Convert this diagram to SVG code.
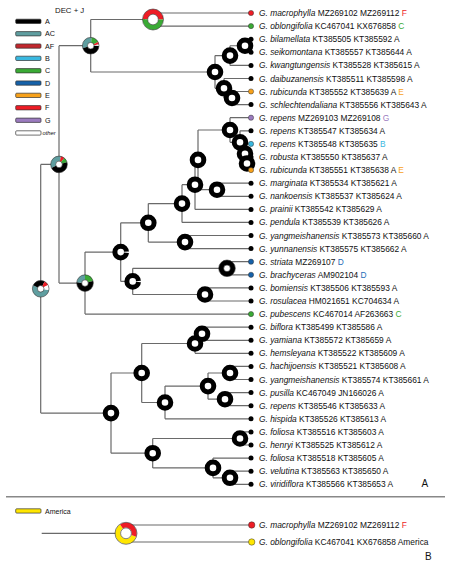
<svg xmlns="http://www.w3.org/2000/svg" width="450" height="568" viewBox="0 0 450 568">
<style>
.l{fill:none;stroke:#6a6a6a;stroke-width:1.2}
.r{fill:#fff;stroke:#000;stroke-width:5}
.s{fill:none;stroke-width:5}
.o{fill:none;stroke:#333;stroke-width:0.6}
.t{font-family:"Liberation Sans",Arial,sans-serif;font-size:8.4px;fill:#111}
.i{font-style:italic}
.lg{font-family:"Liberation Sans",Arial,sans-serif;font-size:7.2px;fill:#111}
.bar{stroke:#333;stroke-width:0.7}
.dk{fill:#000}
.dc{stroke:#333;stroke-width:0.5}
</style>
<rect width="450" height="568" fill="#fff"/>
<g id="legend">
<text class="lg" x="55" y="13" style="font-size:7.8px">DEC + J</text>
<rect class="bar" x="15.7" y="19.2" width="25.3" height="4.3" rx="1" fill="#000"/><text class="lg" x="45" y="23.9">A</text>
<rect class="bar" x="15.7" y="31.6" width="25.3" height="4.3" rx="1" fill="#5f9ea0"/><text class="lg" x="45" y="36.3">AC</text>
<rect class="bar" x="15.7" y="43.9" width="25.3" height="4.3" rx="1" fill="#c1272d"/><text class="lg" x="45" y="48.6">AF</text>
<rect class="bar" x="15.7" y="56.2" width="25.3" height="4.3" rx="1" fill="#39b8e0"/><text class="lg" x="45" y="60.9">B</text>
<rect class="bar" x="15.7" y="68.6" width="25.3" height="4.3" rx="1" fill="#3aaa35"/><text class="lg" x="45" y="73.3">C</text>
<rect class="bar" x="15.7" y="80.9" width="25.3" height="4.3" rx="1" fill="#1561a9"/><text class="lg" x="45" y="85.6">D</text>
<rect class="bar" x="15.7" y="93.2" width="25.3" height="4.3" rx="1" fill="#f7a11a"/><text class="lg" x="45" y="97.9">E</text>
<rect class="bar" x="15.7" y="105.6" width="25.3" height="4.3" rx="1" fill="#ee1c25"/><text class="lg" x="45" y="110.3">F</text>
<rect class="bar" x="15.7" y="118.1" width="25.3" height="4.3" rx="1" fill="#9b7bbf"/><text class="lg" x="45" y="122.8">G</text>
<rect class="bar" x="15.7" y="130.8" width="25.3" height="4.3" rx="1" fill="#fff"/><text class="lg i" x="42.5" y="135" style="font-size:5.8px">other</text>
</g>
<g id="connectors">
<path class="l" d="M40.7 164.4V413.1M40.7 164.4H59M40.7 413.1H111"/>
<path class="l" d="M59 45.7V283.1M59 45.7H90.7M59 283.1H85"/>
<path class="l" d="M90.7 19.5V72M90.7 19.5H153M90.7 72H215"/>
<path class="l" d="M153 13V26.1M153 13H251M153 26.1H251"/>
<path class="l" d="M215 55.6V88.3M215 55.6H230M215 88.3H224"/>
<path class="l" d="M230 45.75V65.4M230 45.75H245M230 65.4H251"/>
<path class="l" d="M245 39.2V52.3M245 39.2H251M245 52.3H251"/>
<path class="l" d="M224 78.5V98M224 78.5H251M224 98H232"/>
<path class="l" d="M232 91.5V104.6M232 91.5H251M232 104.6H251"/>
<path class="l" d="M85 252.1V314.1M85 252.1H120.7M85 314.1H251"/>
<path class="l" d="M120.7 222.8V281.4M120.7 222.8H148.3M120.7 281.4H132.7"/>
<path class="l" d="M148.3 203.6V242.1M148.3 203.6H182M148.3 242.1H185"/>
<path class="l" d="M182 184.7V222.4M182 184.7H195M182 222.4H251"/>
<path class="l" d="M195 159.9V209.4M195 159.9H198M195 209.4H251"/>
<path class="l" d="M198 130V189.7M198 130H230M198 189.7H217"/>
<path class="l" d="M217 183.2V196.3M217 183.2H251M217 196.3H251"/>
<path class="l" d="M230 117.7V142.3M230 117.7H251M230 142.3H240"/>
<path class="l" d="M240 130.8V153.7M240 130.8H251M240 153.7H245"/>
<path class="l" d="M245 143.9V163.5M245 143.9H251M245 163.5H247"/>
<path class="l" d="M247 157V170.1M247 157H251M247 170.1H251"/>
<path class="l" d="M185 235.5V248.6M185 235.5H251M185 248.6H251"/>
<path class="l" d="M132.7 268.3V294.5M132.7 268.3H227M132.7 294.5H205"/>
<path class="l" d="M227 261.7V274.8M227 261.7H251M227 274.8H251"/>
<path class="l" d="M205 287.9V301M205 287.9H251M205 301H251"/>
<path class="l" d="M111 373V453.2M111 373H141.7M111 453.2H152.7"/>
<path class="l" d="M141.7 343.5V402.5M141.7 343.5H195M141.7 402.5H165"/>
<path class="l" d="M195 333.8V353.3M195 333.8H202M195 353.3H251"/>
<path class="l" d="M202 327.2V340.3M202 327.2H251M202 340.3H251"/>
<path class="l" d="M165 386.1V418.8M165 386.1H208M165 418.8H251"/>
<path class="l" d="M208 373V399.2M208 373H230M208 399.2H225"/>
<path class="l" d="M230 366.4V379.5M230 366.4H251M230 379.5H251"/>
<path class="l" d="M225 392.6V405.7M225 392.6H251M225 405.7H251"/>
<path class="l" d="M152.7 438.5V467.9M152.7 438.5H240M152.7 467.9H213"/>
<path class="l" d="M240 431.9V445M240 431.9H251M240 445H251"/>
<path class="l" d="M213 458.1V477.8M213 458.1H251M213 477.8H230"/>
<path class="l" d="M230 471.2V484.3M230 471.2H251M230 484.3H251"/>
<path class="l" d="M41.7 533.3H126M126 525V542M126 525H251.7M126 542H251.7"/>
<path d="M6 496.7H445" fill="none" stroke="#888" stroke-width="1.5"/>
</g>
<g id="nodes">
<g id="n-root"><circle cx="40.7" cy="288.8" r="5.8" fill="#fff"/>
<circle class="s" cx="40.7" cy="288.8" r="5.8" transform="rotate(-90 40.7 288.8)" stroke="#5f9ea0" stroke-dasharray="19.31 17.13" stroke-dashoffset="-9.84"/>
<circle class="s" cx="40.7" cy="288.8" r="5.8" transform="rotate(-90 40.7 288.8)" stroke="#000" stroke-dasharray="10.2 26.24" stroke-dashoffset="-29.15"/>
<circle class="s" cx="40.7" cy="288.8" r="5.8" transform="rotate(-90 40.7 288.8)" stroke="#ee1c25" stroke-dasharray="3.28 33.16" stroke-dashoffset="-2.92"/>
<circle class="s" cx="40.7" cy="288.8" r="5.8" transform="rotate(-90 40.7 288.8)" stroke="#fff" stroke-dasharray="3.64 32.8" stroke-dashoffset="-6.2"/>
<circle class="o" cx="40.7" cy="288.8" r="8.3"/><circle class="o" cx="40.7" cy="288.8" r="3.3"/></g>
<g id="n-na"><circle cx="59" cy="164.4" r="5.8" fill="#fff"/>
<circle class="s" cx="59" cy="164.4" r="5.8" transform="rotate(-90 59 164.4)" stroke="#5f9ea0" stroke-dasharray="13.85 22.59" stroke-dashoffset="-24.05"/>
<circle class="s" cx="59" cy="164.4" r="5.8" transform="rotate(-90 59 164.4)" stroke="#ee1c25" stroke-dasharray="2.55 33.89" stroke-dashoffset="-1.46"/>
<circle class="s" cx="59" cy="164.4" r="5.8" transform="rotate(-90 59 164.4)" stroke="#3aaa35" stroke-dasharray="3.28 33.16" stroke-dashoffset="-4.01"/>
<circle class="s" cx="59" cy="164.4" r="5.8" transform="rotate(-90 59 164.4)" stroke="#000" stroke-dasharray="16.76 19.68" stroke-dashoffset="-7.29"/>
<circle class="o" cx="59" cy="164.4" r="8.3"/><circle class="o" cx="59" cy="164.4" r="3.3"/></g>
<g id="n-nt"><circle cx="90.7" cy="45.7" r="5.8" fill="#fff"/>
<circle class="s" cx="90.7" cy="45.7" r="5.8" transform="rotate(-90 90.7 45.7)" stroke="#5f9ea0" stroke-dasharray="12.39 24.05" stroke-dashoffset="-24.78"/>
<circle class="s" cx="90.7" cy="45.7" r="5.8" transform="rotate(-90 90.7 45.7)" stroke="#3aaa35" stroke-dasharray="5.47 30.97" stroke-dashoffset="-0.73"/>
<circle class="s" cx="90.7" cy="45.7" r="5.8" transform="rotate(-90 90.7 45.7)" stroke="#ee1c25" stroke-dasharray="1.82 34.62" stroke-dashoffset="-6.2"/>
<circle class="s" cx="90.7" cy="45.7" r="5.8" transform="rotate(-90 90.7 45.7)" stroke="#fff" stroke-dasharray="1.09 35.35" stroke-dashoffset="-8.02"/>
<circle class="s" cx="90.7" cy="45.7" r="5.8" transform="rotate(-90 90.7 45.7)" stroke="#000" stroke-dasharray="15.67 20.77" stroke-dashoffset="-9.11"/>
<circle class="o" cx="90.7" cy="45.7" r="8.3"/><circle class="o" cx="90.7" cy="45.7" r="3.3"/></g>
<g id="n-t"><circle cx="85" cy="283.1" r="5.8" fill="#fff"/>
<circle class="s" cx="85" cy="283.1" r="5.8" transform="rotate(-90 85 283.1)" stroke="#3aaa35" stroke-dasharray="7.29 29.15" stroke-dashoffset="0"/>
<circle class="s" cx="85" cy="283.1" r="5.8" transform="rotate(-90 85 283.1)" stroke="#000" stroke-dasharray="20.04 16.4" stroke-dashoffset="-7.29"/>
<circle class="s" cx="85" cy="283.1" r="5.8" transform="rotate(-90 85 283.1)" stroke="#5f9ea0" stroke-dasharray="9.11 27.33" stroke-dashoffset="-27.33"/>
<circle class="o" cx="85" cy="283.1" r="8.3"/><circle class="o" cx="85" cy="283.1" r="3.3"/></g>
<g id="n-mo"><circle cx="153" cy="19.5" r="7.9" fill="#fff"/>
<circle class="s" cx="153" cy="19.5" r="7.9" transform="rotate(-90 153 19.5)" stroke="#ee1c25" stroke-width="5.2" stroke-dasharray="24.82 24.82" stroke-dashoffset="-37.23"/>
<circle class="s" cx="153" cy="19.5" r="7.9" transform="rotate(-90 153 19.5)" stroke="#3aaa35" stroke-width="5.2" stroke-dasharray="24.82 24.82" stroke-dashoffset="-12.41"/>
<circle class="o" cx="153" cy="19.5" r="10.5"/><circle class="o" cx="153" cy="19.5" r="5.3"/></g>
<g id="n-n1"><circle class="r" cx="215" cy="72" r="5.8"/></g>
<g id="n-ab"><circle class="r" cx="230" cy="55.6" r="5.8"/></g>
<g id="n-aa"><circle class="r" cx="245" cy="45.75" r="5.8"/></g>
<g id="n-bb"><circle class="r" cx="224" cy="88.3" r="5.8"/></g>
<g id="n-bc"><circle class="r" cx="232" cy="98" r="5.8"/></g>
<g id="n-v"><circle class="r" cx="120.7" cy="252.1" r="5.8"/><circle class="s" cx="120.7" cy="252.1" r="5.8" transform="rotate(-90 120.7 252.1)" stroke="#fff" stroke-dasharray="1.2 35.24" stroke-dashoffset="-8.4"/></g>
<g id="n-w"><circle class="r" cx="148.3" cy="222.8" r="5.8"/></g>
<g id="n-z"><circle class="r" cx="182" cy="203.6" r="5.8"/></g>
<g id="n-y"><circle class="r" cx="195" cy="184.7" r="5.8"/></g>
<g id="n-x"><circle class="r" cx="198" cy="159.9" r="5.8"/></g>
<g id="n-mn"><circle class="r" cx="217" cy="189.7" r="5.8"/></g>
<g id="n-p1"><circle class="r" cx="230" cy="130" r="5.8"/></g>
<g id="n-p2"><circle class="r" cx="240" cy="142.3" r="5.8"/></g>
<g id="n-p3"><circle class="r" cx="245" cy="153.7" r="5.8"/></g>
<g id="n-p4"><circle class="r" cx="247" cy="163.5" r="5.8"/></g>
<g id="n-yy"><circle class="r" cx="185" cy="242.1" r="5.8"/></g>
<g id="n-s"><circle class="r" cx="132.7" cy="281.4" r="5.8"/><circle class="s" cx="132.7" cy="281.4" r="5.8" transform="rotate(-90 132.7 281.4)" stroke="#fff" stroke-dasharray="1.2 35.24" stroke-dashoffset="-8.4"/></g>
<g id="n-sb"><circle class="r" cx="227" cy="268.3" r="5.8" stroke="#1561a9"/><circle class="o" cx="227" cy="268.3" r="8.3"/><circle class="o" cx="227" cy="268.3" r="3.3"/></g>
<g id="n-br"><circle class="r" cx="205" cy="294.5" r="5.8"/></g>
<g id="n-nb"><circle class="r" cx="111" cy="413.1" r="5.8"/></g>
<g id="n-l1"><circle class="r" cx="141.7" cy="373" r="5.8"/></g>
<g id="n-bh"><circle class="r" cx="195" cy="343.5" r="5.8"/></g>
<g id="n-by"><circle class="r" cx="202" cy="333.8" r="5.8"/></g>
<g id="n-hh"><circle class="r" cx="165" cy="402.5" r="5.8"/></g>
<g id="n-hp"><circle class="r" cx="208" cy="386.1" r="5.8"/></g>
<g id="n-hy"><circle class="r" cx="230" cy="373" r="5.8"/></g>
<g id="n-pr"><circle class="r" cx="225" cy="399.2" r="5.8"/></g>
<g id="n-l2"><circle class="r" cx="152.7" cy="453.2" r="5.8"/></g>
<g id="n-fh"><circle class="r" cx="240" cy="438.5" r="5.8"/></g>
<g id="n-fv"><circle class="r" cx="213" cy="467.9" r="5.8"/></g>
<g id="n-vv"><circle class="r" cx="230" cy="477.8" r="5.8"/></g>
</g>
<g id="tips">
<g id="tip1"><circle class="dc" cx="251" cy="13" r="2.6" fill="#ee1c25"/><text class="t" x="259" y="16"><tspan class="i">G. macrophylla</tspan> MZ269102 MZ269112 <tspan fill="#ee1c25">F</tspan></text></g>
<g id="tip2"><circle class="dc" cx="251" cy="26.1" r="2.6" fill="#3aaa35"/><text class="t" x="259" y="29.1"><tspan class="i">G. oblongifolia</tspan> KC467041 KX676858 <tspan fill="#3aaa35">C</tspan></text></g>
<g id="tip3"><circle class="dk" cx="251" cy="39.2" r="2.5"/><text class="t" x="259" y="42.2"><tspan class="i">G. bilamellata</tspan> KT385505 KT385592 A</text></g>
<g id="tip4"><circle class="dk" cx="251" cy="52.3" r="2.5"/><text class="t" x="259" y="55.3"><tspan class="i">G. seikomontana</tspan> KT385557 KT385644 A</text></g>
<g id="tip5"><circle class="dk" cx="251" cy="65.4" r="2.5"/><text class="t" x="259" y="68.4"><tspan class="i">G. kwangtungensis</tspan> KT385528 KT385615 A</text></g>
<g id="tip6"><circle class="dk" cx="251" cy="78.5" r="2.5"/><text class="t" x="259" y="81.5"><tspan class="i">G. daibuzanensis</tspan> KT385511 KT385598 A</text></g>
<g id="tip7"><circle class="dc" cx="251" cy="91.5" r="2.6" fill="#f7a11a"/><text class="t" x="259" y="94.5"><tspan class="i">G. rubicunda</tspan> KT385552 KT385639 A <tspan fill="#f7a11a">E</tspan></text></g>
<g id="tip8"><circle class="dk" cx="251" cy="104.6" r="2.5"/><text class="t" x="259" y="107.6"><tspan class="i">G. schlechtendaliana</tspan> KT385556 KT385643 A</text></g>
<g id="tip9"><circle class="dc" cx="251" cy="117.7" r="2.6" fill="#9b7bbf"/><text class="t" x="259" y="120.7"><tspan class="i">G. repens</tspan> MZ269103 MZ269108 <tspan fill="#9b7bbf">G</tspan></text></g>
<g id="tip10"><circle class="dk" cx="251" cy="130.8" r="2.5"/><text class="t" x="259" y="133.8"><tspan class="i">G. repens</tspan> KT385547 KT385634 A</text></g>
<g id="tip11"><circle class="dc" cx="251" cy="143.9" r="2.6" fill="#39b8e0"/><text class="t" x="259" y="146.9"><tspan class="i">G. repens</tspan> KT385548 KT385635 <tspan fill="#39b8e0">B</tspan></text></g>
<g id="tip12"><circle class="dk" cx="251" cy="157" r="2.5"/><text class="t" x="259" y="160"><tspan class="i">G. robusta</tspan> KT385550 KT385637 A</text></g>
<g id="tip13"><circle class="dc" cx="251" cy="170.1" r="2.6" fill="#f7a11a"/><text class="t" x="259" y="173.1"><tspan class="i">G. rubicunda</tspan> KT385551 KT385638 A <tspan fill="#f7a11a">E</tspan></text></g>
<g id="tip14"><circle class="dk" cx="251" cy="183.2" r="2.5"/><text class="t" x="259" y="186.2"><tspan class="i">G. marginata</tspan> KT385534 KT385621 A</text></g>
<g id="tip15"><circle class="dk" cx="251" cy="196.3" r="2.5"/><text class="t" x="259" y="199.3"><tspan class="i">G. nankoensis</tspan> KT385537 KT385624 A</text></g>
<g id="tip16"><circle class="dk" cx="251" cy="209.4" r="2.5"/><text class="t" x="259" y="212.4"><tspan class="i">G. prainii</tspan> KT385542 KT385629 A</text></g>
<g id="tip17"><circle class="dk" cx="251" cy="222.4" r="2.5"/><text class="t" x="259" y="225.4"><tspan class="i">G. pendula</tspan> KT385539 KT385626 A</text></g>
<g id="tip18"><circle class="dk" cx="251" cy="235.5" r="2.5"/><text class="t" x="259" y="238.5"><tspan class="i">G. yangmeishanensis</tspan> KT385573 KT385660 A</text></g>
<g id="tip19"><circle class="dk" cx="251" cy="248.6" r="2.5"/><text class="t" x="259" y="251.6"><tspan class="i">G. yunnanensis</tspan> KT385575 KT385662 A</text></g>
<g id="tip20"><circle class="dc" cx="251" cy="261.7" r="2.6" fill="#1561a9"/><text class="t" x="259" y="264.7"><tspan class="i">G. striata</tspan> MZ269107 <tspan fill="#1f6db8">D</tspan></text></g>
<g id="tip21"><circle class="dc" cx="251" cy="274.8" r="2.6" fill="#1561a9"/><text class="t" x="259" y="277.8"><tspan class="i">G. brachyceras</tspan> AM902104 <tspan fill="#1f6db8">D</tspan></text></g>
<g id="tip22"><circle class="dk" cx="251" cy="287.9" r="2.5"/><text class="t" x="259" y="290.9"><tspan class="i">G. bomiensis</tspan> KT385506 KT385593 A</text></g>
<g id="tip23"><circle class="dk" cx="251" cy="301" r="2.5"/><text class="t" x="259" y="304"><tspan class="i">G. rosulacea</tspan> HM021651 KC704634 A</text></g>
<g id="tip24"><circle class="dc" cx="251" cy="314.1" r="2.6" fill="#3aaa35"/><text class="t" x="259" y="317.1"><tspan class="i">G. pubescens</tspan> KC467014 AF263663 <tspan fill="#3aaa35">C</tspan></text></g>
<g id="tip25"><circle class="dk" cx="251" cy="327.2" r="2.5"/><text class="t" x="259" y="330.2"><tspan class="i">G. biflora</tspan> KT385499 KT385586 A</text></g>
<g id="tip26"><circle class="dk" cx="251" cy="340.3" r="2.5"/><text class="t" x="259" y="343.3"><tspan class="i">G. yamiana</tspan> KT385572 KT385659 A</text></g>
<g id="tip27"><circle class="dk" cx="251" cy="353.3" r="2.5"/><text class="t" x="259" y="356.3"><tspan class="i">G. hemsleyana</tspan> KT385522 KT385609 A</text></g>
<g id="tip28"><circle class="dk" cx="251" cy="366.4" r="2.5"/><text class="t" x="259" y="369.4"><tspan class="i">G. hachijoensis</tspan> KT385521 KT385608 A</text></g>
<g id="tip29"><circle class="dk" cx="251" cy="379.5" r="2.5"/><text class="t" x="259" y="382.5"><tspan class="i">G. yangmeishanensis</tspan> KT385574 KT385661 A</text></g>
<g id="tip30"><circle class="dk" cx="251" cy="392.6" r="2.5"/><text class="t" x="259" y="395.6"><tspan class="i">G. pusilla</tspan> KC467049 JN166026 A</text></g>
<g id="tip31"><circle class="dk" cx="251" cy="405.7" r="2.5"/><text class="t" x="259" y="408.7"><tspan class="i">G. repens</tspan> KT385546 KT385633 A</text></g>
<g id="tip32"><circle class="dk" cx="251" cy="418.8" r="2.5"/><text class="t" x="259" y="421.8"><tspan class="i">G. hispida</tspan> KT385526 KT385613 A</text></g>
<g id="tip33"><circle class="dk" cx="251" cy="431.9" r="2.5"/><text class="t" x="259" y="434.9"><tspan class="i">G. foliosa</tspan> KT385516 KT385603 A</text></g>
<g id="tip34"><circle class="dk" cx="251" cy="445" r="2.5"/><text class="t" x="259" y="448"><tspan class="i">G. henryi</tspan> KT385525 KT385612 A</text></g>
<g id="tip35"><circle class="dk" cx="251" cy="458.1" r="2.5"/><text class="t" x="259" y="461.1"><tspan class="i">G. foliosa</tspan> KT385518 KT385605 A</text></g>
<g id="tip36"><circle class="dk" cx="251" cy="471.2" r="2.5"/><text class="t" x="259" y="474.2"><tspan class="i">G. velutina</tspan> KT385563 KT385650 A</text></g>
<g id="tip37"><circle class="dk" cx="251" cy="484.3" r="2.5"/><text class="t" x="259" y="487.3"><tspan class="i">G. viridiflora</tspan> KT385566 KT385653 A</text></g>
</g>
<text id="label-a" x="421.5" y="487" style="font-family:'Liberation Sans',Arial,sans-serif;font-size:10px;fill:#111">A</text>
<g id="panel-b">
<g id="legend-b"><rect class="bar" x="15.7" y="508.8" width="25.3" height="4.3" rx="1" fill="#ffe600"/><text class="lg" x="45" y="513.5" style="font-size:7px">America</text></g>
<g id="n-b"><circle cx="126" cy="533.3" r="8.2" fill="#fff"/>
<circle class="s" cx="126" cy="533.3" r="8.2" transform="rotate(-90 126 533.3)" stroke="#ffe600" stroke-width="5.6" stroke-dasharray="30.91 20.61" stroke-dashoffset="-15.46"/>
<circle class="s" cx="126" cy="533.3" r="8.2" transform="rotate(-90 126 533.3)" stroke="#ee1c25" stroke-width="5.6" stroke-dasharray="20.61 30.91" stroke-dashoffset="-46.37"/>
<circle class="o" cx="126" cy="533.3" r="11"/><circle class="o" cx="126" cy="533.3" r="5.4"/></g>
<g id="tipb1"><circle class="dc" cx="251.7" cy="525" r="3.2" fill="#ee1c25"/><text class="t" x="259" y="528"><tspan class="i">G. macrophylla</tspan> MZ269102 MZ269112 <tspan fill="#ee1c25">F</tspan></text></g>
<g id="tipb2"><circle class="dc" cx="251.7" cy="542" r="3.2" fill="#ffe600"/><text class="t" x="259" y="545"><tspan class="i">G. oblongifolia</tspan> KC467041 KX676858 America</text></g>
<text id="label-b" x="425" y="560" style="font-family:'Liberation Sans',Arial,sans-serif;font-size:10px;fill:#111">B</text>
</g>
</svg>
